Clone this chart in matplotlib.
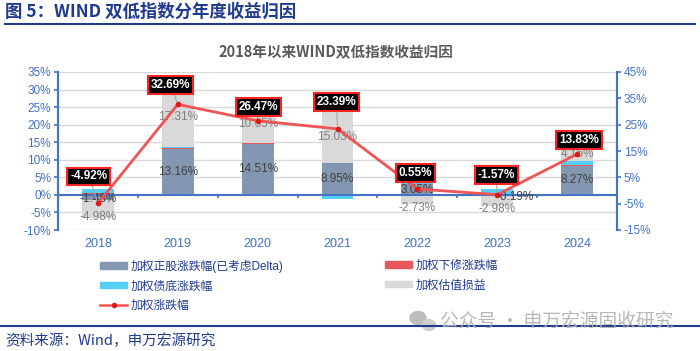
import numpy as np
import matplotlib
matplotlib.use("Agg")
import matplotlib.pyplot as plt
from matplotlib.patches import Patch, Ellipse
from matplotlib.lines import Line2D

plt.rcParams['font.family'] = ['Liberation Sans', 'Noto Sans CJK SC', 'DejaVu Sans']

# data (%)
years = ['2018', '2019', '2020', '2021', '2022', '2023', '2024']
equity = [-1.48, 13.16, 14.51, 8.95, 3.05, -0.19, 8.27]      # 加权正股涨跌幅(已考虑Delta)
revision = [0.50, 0.10, 0.20, 0.00, 0.10, 0.10, 0.30]       # 加权下修涨跌幅
bond = [1.04, 0.40, 0.10, -1.30, 0.13, 1.50, 1.00]          # 加权债底涨跌幅
valuation = [-4.98, 17.31, 10.65, 15.03, -2.73, -2.98, 4.16]  # 加权估值损益
total = [-4.92, 32.69, 26.47, 23.39, 0.55, -1.57, 13.83]    # 加权涨跌幅

names = ['加权正股涨跌幅(已考虑Delta)', '加权下修涨跌幅', '加权债底涨跌幅', '加权估值损益', '加权涨跌幅']

NAVY = '#1F3A8F'
AXBLUE = '#4472C4'
c_eq, c_rev, c_bond, c_val = '#8497B0', '#E8585B', '#55D0F5', '#D9D9D9'
c_line = '#EE5555'

fig = plt.figure(figsize=(7, 3.51), dpi=100)
W, H = 700, 351

# header
fig.text(5 / W, 1 - 12 / H, '图 5：WIND 双低指数分年度收益归因', family=['Noto Sans CJK SC'],
         fontsize=12.5, fontweight='bold', color=NAVY, va='center', ha='left')
fig.add_artist(Line2D([5 / W, 695 / W], [1 - 24 / H] * 2, transform=fig.transFigure, color=NAVY, lw=1.5))
fig.text(336 / W, 1 - 52 / H, '2018年以来WIND双低指数收益归因', family=['Noto Sans CJK SC'],
         fontsize=10.5, fontweight='bold', color='#595959', va='center', ha='center')

ax = fig.add_axes([58 / W, 1 - 230 / H, (617 - 58) / W, (230 - 72) / H])
ax2 = ax.twinx()

x = np.arange(len(years))
bw = 0.4
pos = np.zeros(len(years))
neg = np.zeros(len(years))
centers = []
for vals, col in [(equity, c_eq), (revision, c_rev), (bond, c_bond), (valuation, c_val)]:
    v = np.array(vals)
    base = np.where(v >= 0, pos, neg)
    ax.bar(x, v, bw, bottom=base, color=col, zorder=2)
    centers.append(base + v / 2)
    pos = np.where(v >= 0, pos + v, pos)
    neg = np.where(v < 0, neg + v, neg)

# segment labels
for i in range(len(years)):
    dx = 18 if abs(equity[i]) < 1 else 0
    dy = -2 if equity[i] < 0 else 0
    ax.annotate(f'{equity[i]:.2f}%', (x[i], centers[0][i]), xytext=(dx, dy), textcoords='offset pixels',
                ha='center', va='center', fontsize=8.5, color='#404040', zorder=3)
    dy = -8 if valuation[i] < 0 else 0
    ax.annotate(f'{valuation[i]:.2f}%', (x[i], centers[3][i]), xytext=(0, dy), textcoords='offset pixels',
                ha='center', va='center', fontsize=8.5, color='#7F7F7F', zorder=3)

ax.set_xlim(-0.5, len(years) - 0.5)
ax.set_ylim(-10, 35)
ax.set_yticks(np.arange(-10, 36, 5))
ax.set_yticklabels([f'{t}%' for t in range(-10, 36, 5)])
ax.yaxis.grid(True, color='#D9D9D9', lw=1)
ax.set_axisbelow(True)
ax.axhline(0, color=AXBLUE, lw=1.5, zorder=2.5)
ax.vlines(x[:-1] + 0.5, -1.0, 0, color=AXBLUE, lw=1.2, zorder=2.5)
ax.set_xticks(x)
ax.set_xticklabels(years)
ax.tick_params(axis='x', length=0, pad=6, labelsize=9, labelcolor=AXBLUE)
ax.tick_params(axis='y', labelsize=8.5, labelcolor=AXBLUE, color=AXBLUE, length=3, width=1.2, pad=2)

ax2.plot(x, total, color=c_line, lw=2, marker='o', ms=3, mfc='#E01818', mec='#E01818', zorder=4)
ax2.set_ylim(-15, 45)
ax2.set_yticks(np.arange(-15, 46, 10))
ax2.set_yticklabels([f'{t}%' for t in range(-15, 46, 10)])
ax2.tick_params(axis='y', labelsize=8.5, labelcolor=AXBLUE, color=AXBLUE, length=3, width=1.2, pad=2)

for a in (ax, ax2):
    for s in ('top', 'bottom'):
        a.spines[s].set_visible(False)
    a.spines['left'].set_color(AXBLUE)
    a.spines['right'].set_color(AXBLUE)
    a.spines['left'].set_linewidth(1.5)
    a.spines['right'].set_linewidth(1.5)

# total labels
box_off = [(-9, 27), (-7, 19), (1, 14), (-1, 27), (-2, 16), (-1, 20), (2, 14)]
for i in range(len(years)):
    ax2.annotate(f'{total[i]:.2f}%', (x[i], total[i]), xytext=box_off[i], textcoords='offset pixels',
                 ha='center', va='center', fontsize=8.5, fontweight='bold', color='white', zorder=6,
                 bbox=dict(boxstyle='square,pad=0.25', fc='black', ec='#FF2222', lw=1.5),
                 arrowprops=dict(arrowstyle='-', color='#A6A6A6', lw=0.8, shrinkA=0, shrinkB=2))

# legends
h_eq = Patch(color=c_eq)
h_rev = Patch(color=c_rev)
h_bond = Patch(color=c_bond)
h_val = Patch(color=c_val)
h_tot = Line2D([], [], color=c_line, lw=1.8, marker='o', ms=3, mfc='#E01818', mec='#E01818')
lkw = dict(loc='upper left', frameon=False, fontsize=8.5, borderpad=0, borderaxespad=0,
           handlelength=2.3, handleheight=0.5, handletextpad=0.3, labelspacing=0.62, labelcolor=NAVY)
fig.legend([h_eq, h_bond, h_tot], [names[0], names[2], names[4]], bbox_to_anchor=(100 / W, 1 - 260 / H), **lkw)
fig.legend([h_rev, h_val], [names[1], names[3]], bbox_to_anchor=(385 / W, 1 - 260 / H), **lkw)

# footer (watermark + source)
fig.add_artist(Ellipse((418 / W, 1 - 318 / H), 16 / W, 13 / H, transform=fig.transFigure, color='#BDBDBD'))
fig.add_artist(Ellipse((429 / W, 1 - 325 / H), 13 / W, 11 / H, transform=fig.transFigure, color='#CFCFCF'))
fig.text(440 / W, 1 - 321 / H, '公众号 · 申万宏源固收研究', family=['Noto Sans CJK SC'],
         fontsize=13.5, color='#B0B0B0', va='center', ha='left', alpha=0.9)
fig.add_artist(Line2D([0, 1], [1 - 326 / H] * 2, transform=fig.transFigure, color=NAVY, lw=1.5))
fig.text(5 / W, 1 - 341 / H, '资料来源：Wind，申万宏源研究', family=['Noto Sans CJK SC'],
         fontsize=10.5, color=NAVY, va='center', ha='left')

fig.savefig('out.png', dpi=100)
